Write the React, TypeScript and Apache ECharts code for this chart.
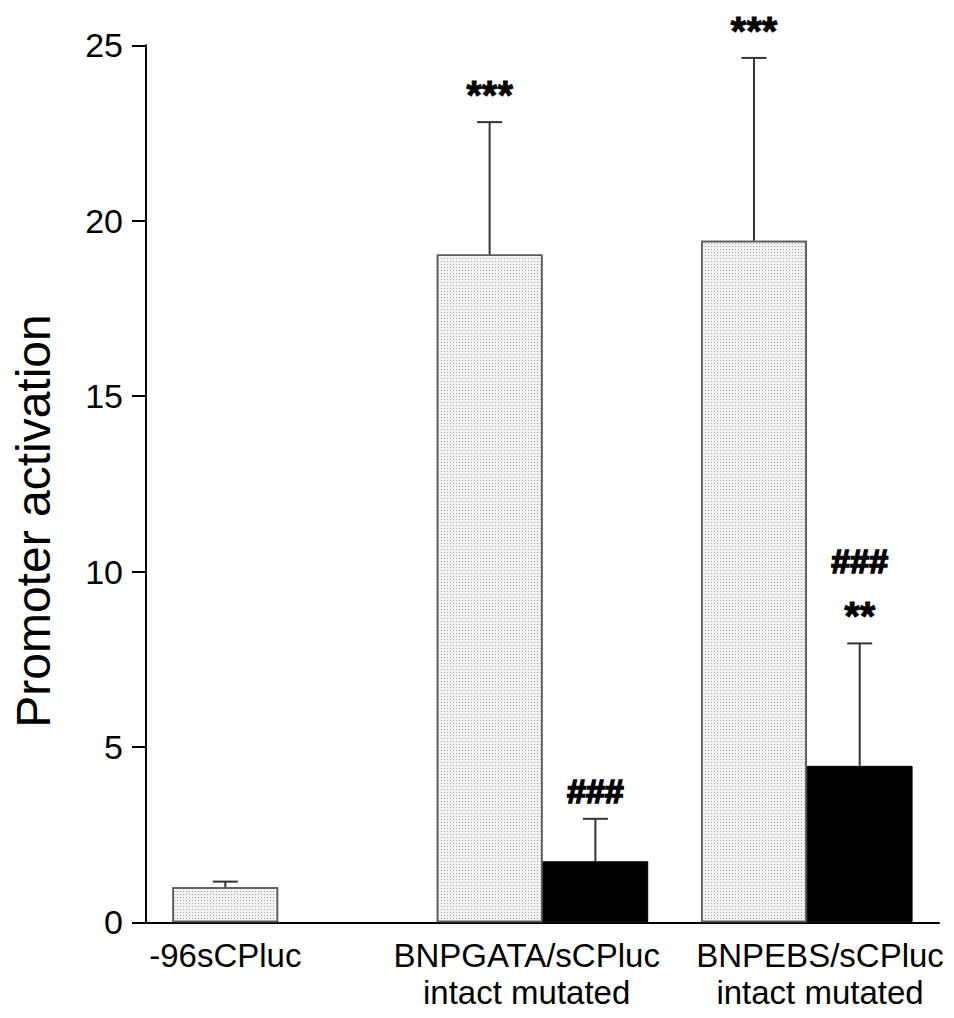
import React, { useEffect, useRef } from "react";
import * as echarts from "echarts";

// ---- data ----
const barNames = [
  "-96sCPluc",
  "BNPGATA/sCPluc intact",
  "BNPGATA/sCPluc mutated",
  "BNPEBS/sCPluc intact",
  "BNPEBS/sCPluc mutated",
];
const barX = [1.5, 6.5, 8.5, 11.5, 13.5]; // bar centres on the x scale (half-bar units)
const barKind = ["intact", "intact", "mutated", "intact", "mutated"];
const means = [1.0, 19.04, 1.74, 19.43, 4.46];
const errorTops = [1.16, 22.81, 2.95, 24.64, 7.95];
const annotations: string[][] = [[], ["***"], ["###"], ["***"], ["**", "###"]];

const groupLabels = ["-96sCPluc", "BNPGATA/sCPluc\nintact mutated", "BNPEBS/sCPluc\nintact mutated"];
const groupLabelX = [1.5, 7.2, 12.75];

const yMin = 0;
const yMax = 25;
const yStep = 5;
const xMin = 0;
const xMax = 15;

const yTitle = "Promoter activation";

// ---- layout / style ----
const W = 954;
const H = 1018;
const GRID_LEFT = 146;
const GRID_RIGHT = 15;
const GRID_TOP = 45.3;
const GRID_BOTTOM = 95.7;
const FONT = "'Liberation Sans', Arial, Helvetica, sans-serif";

export default function App() {
  const ref = useRef<HTMLDivElement>(null);

  useEffect(() => {
    if (!ref.current) return;
    const chart = echarts.init(ref.current, undefined, { renderer: "svg", width: W, height: H });

    const gridW = W - GRID_LEFT - GRID_RIGHT;
    const barWidth = (gridW / (xMax - xMin)) * 2;

    const stipple = {
      color: "#f1f1f1",
      borderColor: "#5a5a5a",
      borderWidth: 1.5,
      decal: {
        symbol: "rect",
        symbolSize: 1,
        color: "rgba(140,140,140,0.75)",
        dashArrayX: [1, 2],
        dashArrayY: [1, 2],
        rotation: 0,
      },
    };
    const solid = { color: "#000", borderColor: "#000", borderWidth: 1 };

    const option: any = {
      animation: false,
      backgroundColor: "#fff",
      grid: { left: GRID_LEFT, right: GRID_RIGHT, top: GRID_TOP, bottom: GRID_BOTTOM, containLabel: false },
      xAxis: {
        type: "value",
        min: xMin,
        max: xMax,
        axisLine: { show: true, lineStyle: { color: "#000", width: 2 } },
        axisTick: { show: false },
        splitLine: { show: false },
        axisLabel: {
          show: true,
          customValues: groupLabelX,
          formatter: (v: number) => {
            const i = groupLabelX.findIndex((g) => Math.abs(g - v) < 1e-6);
            return i >= 0 ? groupLabels[i] : "";
          },
          margin: 14.5,
          color: "#000",
          fontSize: 33,
          lineHeight: 37,
          fontFamily: FONT,
          align: "center",
          verticalAlign: "top",
        },
      },
      yAxis: {
        type: "value",
        min: yMin,
        max: yMax,
        interval: yStep,
        axisLine: { show: true, lineStyle: { color: "#000", width: 2 } },
        axisTick: { show: true, length: 14, lineStyle: { color: "#000", width: 2 } },
        splitLine: { show: false },
        axisLabel: { margin: 23, color: "#000", fontSize: 34, fontFamily: FONT },
      },
      graphic: [
        {
          type: "text",
          x: 33,
          y: 521,
          rotation: Math.PI / 2,
          style: {
            text: yTitle,
            fontSize: 48,
            fontFamily: FONT,
            fill: "#000",
            align: "center",
            verticalAlign: "middle",
          },
        },
      ],
      series: [
        {
          type: "bar",
          name: "activation",
          barWidth,
          data: barX.map((x, i) => ({
            name: barNames[i],
            value: [x, means[i]],
            itemStyle: barKind[i] === "intact" ? stipple : solid,
          })),
          z: 2,
        },
        {
          type: "custom",
          name: "error",
          clip: false,
          z: 3,
          data: barX.map((x, i) => [x, means[i], errorTops[i], i]),
          renderItem: (params: any, api: any) => {
            const x = api.value(0);
            const m = api.value(1);
            const t = api.value(2);
            const idx = params.dataIndex;
            const base = api.coord([x, m]);
            const top = api.coord([x, t]);
            const cap = 12.5;
            const lineStyle = { stroke: "#333", lineWidth: 2 };
            const children: any[] = [
              { type: "line", shape: { x1: base[0], y1: base[1], x2: top[0], y2: top[1] }, style: lineStyle },
              { type: "line", shape: { x1: top[0] - cap, y1: top[1], x2: top[0] + cap, y2: top[1] }, style: lineStyle },
            ];
            const rows = annotations[idx] || [];
            let offset = 0;
            rows.forEach((txt, r) => {
              const isStar = txt.indexOf("*") >= 0;
              if (r === 0) offset = isStar ? 36 : 28;
              else offset += 46;
              const fontSize = isStar ? 40 : 34;
              const visualShift = isStar ? 9 : 0;
              children.push({
                type: "text",
                x: top[0],
                y: top[1] - offset + visualShift,
                style: {
                  text: txt,
                  fontSize,
                  fontWeight: "bold",
                  fontFamily: FONT,
                  fill: "#000",
                  stroke: "#000",
                  lineWidth: isStar ? 0.8 : 1.6,
                  align: "center",
                  verticalAlign: "middle",
                },
              });
            });
            return { type: "group", children };
          },
        },
      ],
    };

    chart.setOption(option);
    return () => chart.dispose();
  }, []);

  return (
    <div
      ref={ref}
      style={{ position: "absolute", left: 0, top: 0, width: W, height: H, background: "#fff" }}
    />
  );
}
